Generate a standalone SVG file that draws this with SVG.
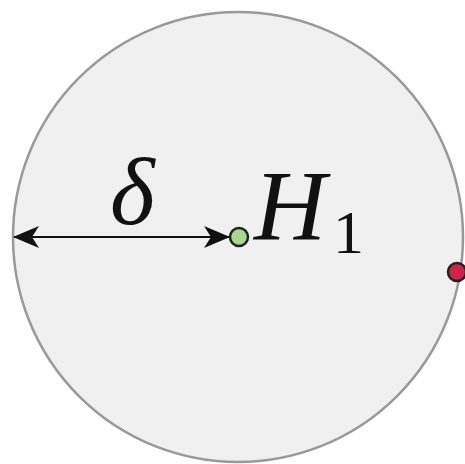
<svg xmlns="http://www.w3.org/2000/svg" width="465" height="464" viewBox="0 0 465 464">
<style>
.lbl{font-family:"Liberation Serif","Times New Roman",serif;font-style:italic;fill:#111}
.sub{font-family:"Liberation Serif","Times New Roman",serif;fill:#111}
</style>
<defs>
<marker id="ah" viewBox="0 0 26 22" refX="25" refY="11" markerWidth="26" markerHeight="22" markerUnits="userSpaceOnUse" orient="auto-start-reverse">
<path d="M0,0 L26,11 L0,22 L7,11 Z" fill="#111"/>
</marker>
</defs>
<g id="region">
<circle cx="238" cy="237" r="225" fill="#f0f0f0" stroke="#999" stroke-width="2.5"/>
</g>
<g id="connectors">
<line x1="14" y1="237" x2="229" y2="237" stroke="#111" stroke-width="2" marker-start="url(#ah)" marker-end="url(#ah)"/>
</g>
<g id="H1">
<circle cx="239" cy="237" r="9" fill="#a8d890" stroke="#222" stroke-width="2.5"/>
<text class="lbl" x="254" y="239" font-size="100">H</text>
<text class="sub" x="333" y="253" font-size="62">1</text>
</g>
<g id="point">
<circle cx="457" cy="272" r="9" fill="#d0234b" stroke="#222" stroke-width="2.5"/>
</g>
<text class="lbl" x="110" y="224" font-size="96">δ</text>
</svg>
